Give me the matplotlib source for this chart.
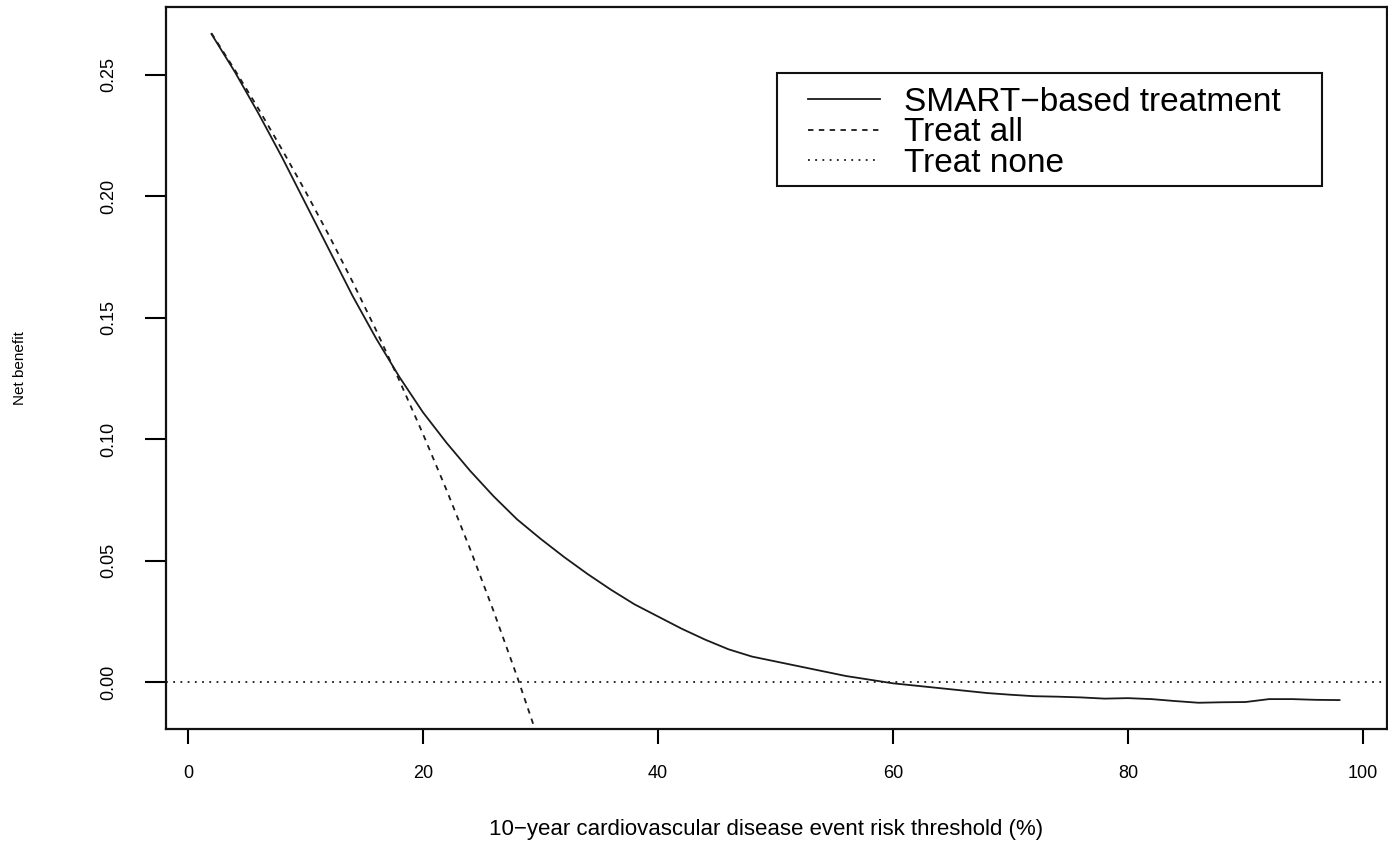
import numpy as np
import matplotlib
matplotlib.use("Agg")
import matplotlib.pyplot as plt
from matplotlib.patches import Rectangle

plt.rcParams['font.family'] = ['Liberation Sans', 'DejaVu Sans']

# risk thresholds (%) and net benefit
thresholds = [2, 4, 6, 8, 10, 12, 14, 16, 18, 20, 22, 24, 26, 28, 30, 32, 34, 36, 38,
              40, 42, 44, 46, 48, 50, 52, 54, 56, 58, 60, 62, 64, 66, 68, 70, 72, 74,
              76, 78, 80, 82, 84, 86, 88, 90, 92, 94, 96, 98]
nb_smart = [0.2667, 0.2510, 0.2340, 0.2160, 0.1970, 0.1780, 0.1590, 0.1415, 0.1255,
            0.1110, 0.0985, 0.0870, 0.0765, 0.0670, 0.0590, 0.0515, 0.0445, 0.0380,
            0.0320, 0.0270, 0.0220, 0.0175, 0.0135, 0.0105, 0.0085, 0.0065, 0.0045,
            0.0025, 0.0010, -0.0005, -0.0015, -0.0025, -0.0035, -0.0045, -0.0052,
            -0.0058, -0.0060, -0.0063, -0.0068, -0.0066, -0.0070, -0.0078, -0.0085,
            -0.0083, -0.0082, -0.0070, -0.0070, -0.0073, -0.0074]

thresholds_all = [2, 4, 6, 8, 10, 12, 14, 16, 18, 20, 22, 24, 26, 28, 30]
nb_all = [0.2670, 0.2518, 0.2359, 0.2192, 0.2019, 0.1838, 0.1648, 0.1449, 0.1240,
          0.1021, 0.0791, 0.0549, 0.0293, 0.0024, -0.0261]

xticks = [0, 20, 40, 60, 80, 100]
yticks = [0.00, 0.05, 0.10, 0.15, 0.20, 0.25]

W, H = 1388, 841
fig = plt.figure(figsize=(W / 100, H / 100), dpi=100)
ax = fig.add_axes([166/W, 1 - 729/H, 1221/W, 722/H])

lc = '#1a1a1a'
ax.plot(thresholds, nb_smart, color=lc, lw=1.3, ls='-', label='SMART\u2212based treatment')
ax.plot(thresholds_all, nb_all, color=lc, lw=1.3, ls=(0, (3, 3)), label='Treat all')
ax.axhline(0, color=lc, lw=1.3, ls=(0, (1, 3)), label='Treat none')

ax.set_xlim(-1.87, 102.04)
ax.set_ylim(-0.0193, 0.2778)
ax.set_xticks(xticks)
ax.set_xticklabels([str(v) for v in xticks])
ax.set_yticks(yticks)
ax.set_yticklabels(['%.2f' % v for v in yticks], rotation=90, va='center')

ax.tick_params(axis='x', direction='out', length=11, width=1.5, labelsize=13, pad=15)
ax.tick_params(axis='y', direction='out', length=15, width=1.5, labelsize=13, pad=20)
for s in ax.spines.values():
    s.set_linewidth(1.6)
    s.set_color('#111111')

ax.set_xlabel('10\u2212year cardiovascular disease event risk threshold (%)', fontsize=16)
ax.xaxis.set_label_coords((766 - 166) / 1221, (729 - 829) / 722)
ax.get_xaxis().label.set_va('center')
ax.set_ylabel('Net benefit', fontsize=11)
ax.yaxis.set_label_coords((20 - 166) / 1221, (729 - 368) / 722)
ax.get_yaxis().label.set_va('center')

# legend without its own frame, box drawn at the reference position
leg = ax.legend(loc='upper left', bbox_to_anchor=(808 / W, 1 - 87 / H),
                bbox_transform=fig.transFigure,
                fontsize=24, frameon=False,
                handlelength=2.15, handletextpad=0.72, labelspacing=-0.02,
                borderpad=0, borderaxespad=0)
fig.add_artist(Rectangle((777 / W, 1 - 186 / H), 545 / W, 113 / H,
                         transform=fig.transFigure, fill=False,
                         edgecolor='#111111', linewidth=1.5))

fig.savefig('out.png', dpi=100)
